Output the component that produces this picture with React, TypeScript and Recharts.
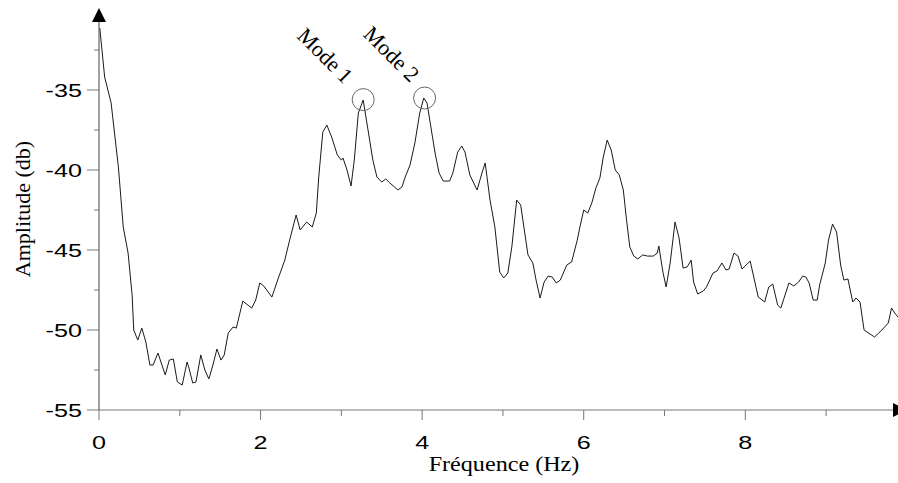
import { Line, LineChart, ReferenceDot, XAxis, YAxis } from 'recharts'

// Spectre d'amplitude (Hz / dB).
const FREQ = [
  0.01, 0.07, 0.15, 0.24, 0.3, 0.36, 0.41, 0.43, 0.48, 0.53,
  0.58, 0.63, 0.67, 0.73, 0.82, 0.87, 0.92, 0.97, 1.03, 1.09,
  1.11, 1.16, 1.2, 1.26, 1.31, 1.36, 1.41, 1.46, 1.51, 1.55,
  1.6, 1.66, 1.7, 1.78, 1.89, 1.94, 1.99, 2.04, 2.14, 2.22,
  2.3, 2.36, 2.44, 2.49, 2.57, 2.64, 2.69, 2.72, 2.77, 2.82,
  2.88, 2.95, 3.0, 3.02, 3.07, 3.12, 3.16, 3.21, 3.27, 3.33,
  3.39, 3.44, 3.5, 3.55, 3.6, 3.7, 3.75, 3.79, 3.85, 3.91,
  3.97, 4.02, 4.06, 4.1, 4.16, 4.21, 4.26, 4.34, 4.38, 4.44,
  4.49, 4.53, 4.59, 4.68, 4.74, 4.78, 4.84, 4.9, 4.96, 5.01,
  5.06, 5.11, 5.17, 5.22, 5.27, 5.31, 5.37, 5.41, 5.46, 5.51,
  5.56, 5.61, 5.66, 5.71, 5.79, 5.85, 5.92, 5.95, 6.0, 6.05,
  6.1, 6.15, 6.2, 6.24, 6.29, 6.34, 6.39, 6.44, 6.49, 6.53,
  6.57, 6.62, 6.67, 6.73, 6.79, 6.86, 6.91, 6.93, 6.98, 7.02,
  7.07, 7.13, 7.18, 7.23, 7.28, 7.33, 7.36, 7.41, 7.48, 7.52,
  7.6, 7.65, 7.71, 7.76, 7.8, 7.86, 7.91, 7.96, 8.06, 8.16,
  8.24, 8.29, 8.34, 8.4, 8.44, 8.54, 8.6, 8.66, 8.71, 8.75,
  8.79, 8.84, 8.89, 8.92, 8.99, 9.03, 9.08, 9.13, 9.18, 9.22,
  9.27, 9.33, 9.37, 9.42, 9.47, 9.6, 9.69, 9.77, 9.81, 9.85,
  9.89,
]

const AMP = [
  -31.13, -34.19, -35.81, -39.81, -43.56, -45.19, -47.81, -50.0, -50.63, -49.88,
  -50.75, -52.19, -52.19, -51.44, -52.81, -51.88, -51.81, -53.25, -53.44, -52.0,
  -52.31, -53.31, -53.25, -51.56, -52.5, -53.06, -52.19, -51.19, -51.88, -51.56,
  -50.19, -49.81, -49.88, -48.19, -48.63, -48.13, -47.06, -47.25, -47.94, -46.75,
  -45.63, -44.38, -42.81, -43.75, -43.25, -43.56, -42.69, -40.44, -37.63, -37.19,
  -37.94, -39.06, -39.38, -39.25, -40.0, -41.0, -39.38, -36.44, -35.63, -37.5,
  -39.38, -40.44, -40.75, -40.56, -40.81, -41.25, -41.06, -40.44, -39.69, -38.31,
  -36.44, -35.5, -35.81, -37.06, -38.94, -40.19, -40.69, -40.69, -40.19, -38.88,
  -38.5, -38.88, -40.31, -41.25, -40.19, -39.56, -41.88, -43.56, -46.38, -46.75,
  -46.44, -44.81, -41.88, -42.19, -43.94, -45.31, -45.81, -46.88, -48.0, -47.0,
  -46.63, -46.69, -47.06, -46.88, -45.94, -45.75, -44.38, -43.63, -42.5, -42.69,
  -42.06, -41.13, -40.5, -39.25, -38.13, -38.75, -40.0, -40.31, -41.25, -43.13,
  -44.81, -45.38, -45.56, -45.31, -45.38, -45.38, -45.19, -44.75, -46.38, -47.31,
  -45.81, -43.25, -44.25, -46.13, -46.06, -45.63, -47.0, -47.75, -47.56, -47.31,
  -46.44, -46.31, -45.81, -46.25, -46.19, -45.19, -45.38, -46.19, -45.69, -47.94,
  -48.25, -47.31, -47.13, -48.44, -48.63, -47.06, -47.25, -47.0, -46.63, -46.69,
  -47.06, -48.13, -48.13, -47.19, -45.81, -44.38, -43.38, -43.88, -45.94, -46.88,
  -46.81, -48.25, -48.0, -48.25, -50.0, -50.44, -50.0, -49.56, -48.63, -48.94,
  -49.19,
]

const X_TICKS = [0, 1, 2, 3, 4, 5, 6, 7, 8, 9]
const Y_TICKS = [-55, -52.5, -50, -47.5, -45, -42.5, -40, -37.5, -35, -32.5]

const MODE_LABELS = ['Mode 1', 'Mode 2']
const MODE_FREQ = [3.27, 4.03]
const MODE_AMP = [-35.6, -35.5]

const X_MAX = 9.89
const Y_MIN = -55
const Y_MAX = -30.5

const data = FREQ.map((f, i) => ({ f, a: AMP[i] }))

const SANS = '"Liberation Sans", Arial, sans-serif'
const SERIF = '"Liberation Serif", "Times New Roman", serif'
const AXIS_Y = 410
const AXIS_X = 99
// les chiffres des graduations sont plus larges que hauts dans l'original
const TICK_STRETCH = 1.4

function XTick({ x, payload }: any) {
  const v = payload.value as number
  const major = v % 2 === 0
  return (
    <g>
      <line x1={x} x2={x} y1={AXIS_Y} y2={AXIS_Y + (major ? 10 : 6)} stroke="#777" />
      {major && (
        <text
          transform={`translate(${x} 449) scale(${TICK_STRETCH} 1)`}
          textAnchor="middle"
          fontFamily={SANS}
          fontSize={18}
          fill="#000"
        >
          {v}
        </text>
      )}
    </g>
  )
}

function YTick({ y, payload }: any) {
  const v = payload.value as number
  const major = v % 5 === 0
  return (
    <g>
      <line x1={AXIS_X - (major ? 12 : 5)} x2={AXIS_X} y1={y} y2={y} stroke="#777" />
      {major && (
        <text
          transform={`translate(82 ${y + 6.5}) scale(${TICK_STRETCH} 1)`}
          textAnchor="end"
          fontFamily={SANS}
          fontSize={18}
          fill="#000"
        >
          {v}
        </text>
      )}
    </g>
  )
}

// cercle sur le pic + étiquette inclinée à 45°
function modeShape(label: string, dx: number, dy: number) {
  return ({ cx, cy }: any) => (
    <g>
      <circle cx={cx} cy={cy} r={11} fill="none" stroke="#666" strokeWidth={1} />
      <text
        x={cx + dx}
        y={cy + dy}
        transform={`rotate(45 ${cx + dx} ${cy + dy})`}
        textAnchor="middle"
        dominantBaseline="central"
        fontFamily={SERIF}
        fontSize={22}
        fill="#000"
      >
        {label}
      </text>
    </g>
  )
}

const MODE_OFFSETS = [
  [-38, -44],
  [-33, -44],
]

export default function App() {
  return (
    <div style={{ position: 'absolute', left: 0, top: 0, background: '#fff' }}>
      <LineChart width={898} height={483} data={data} margin={{ top: 18, right: 0, bottom: 0, left: 0 }}>
        <XAxis
          dataKey="f"
          type="number"
          domain={[0, X_MAX]}
          ticks={X_TICKS}
          interval={0}
          height={73}
          tickLine={false}
          axisLine={{ stroke: '#777' }}
          tick={<XTick />}
          allowDataOverflow
          label={{
            content: () => (
              <text
                transform="translate(504 471) scale(1.15 1)"
                textAnchor="middle"
                fontFamily={SERIF}
                fontSize={21}
                fill="#000"
              >
                Fréquence (Hz)
              </text>
            ),
          }}
        />
        <YAxis
          type="number"
          domain={[Y_MIN, Y_MAX]}
          ticks={Y_TICKS}
          interval={0}
          width={AXIS_X}
          tickLine={false}
          axisLine={{ stroke: '#444' }}
          tick={<YTick />}
          allowDataOverflow
          label={{
            content: () => (
              <text
                x={22}
                y={209}
                transform="rotate(-90 22 209)"
                textAnchor="middle"
                dominantBaseline="central"
                fontFamily={SERIF}
                fontSize={22}
                fill="#000"
              >
                Amplitude (db)
              </text>
            ),
          }}
        />
        <Line
          dataKey="a"
          type="linear"
          stroke="#1a1a1a"
          strokeWidth={1}
          dot={false}
          isAnimationActive={false}
        />
        {MODE_LABELS.map((label, i) => (
          <ReferenceDot
            key={label}
            x={MODE_FREQ[i]}
            y={MODE_AMP[i]}
            ifOverflow="visible"
            shape={modeShape(label, MODE_OFFSETS[i][0], MODE_OFFSETS[i][1])}
          />
        ))}
        {/* flèches des axes */}
        <ReferenceDot
          x={0}
          y={Y_MAX}
          ifOverflow="visible"
          shape={({ cx, cy }: any) => (
            <polygon points={`${cx},${cy - 10} ${cx - 7},${cy + 4} ${cx + 7},${cy + 4}`} fill="#000" />
          )}
        />
        <ReferenceDot
          x={X_MAX}
          y={Y_MIN}
          ifOverflow="visible"
          shape={({ cx, cy }: any) => (
            <polygon points={`${cx + 9},${cy} ${cx - 5},${cy - 7} ${cx - 5},${cy + 7}`} fill="#000" />
          )}
        />
      </LineChart>
    </div>
  )
}
